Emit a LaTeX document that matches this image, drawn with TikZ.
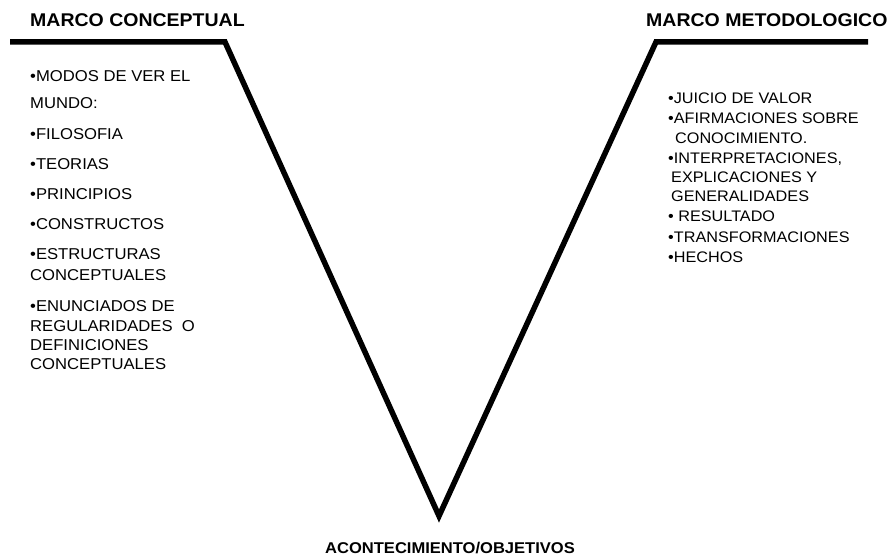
\documentclass[tikz,border=0pt]{standalone}
\usepackage{fontspec}
\setmainfont{Liberation Sans}
\newfontfamily\wide[FakeStretch=1.06]{Liberation Sans}
\begin{document}
\begin{tikzpicture}[x=1pt,y=-1pt,
  txt/.style={inner sep=0pt,anchor=base west,font=\wide\fontsize{15.7}{18}\selectfont},
  rtxt/.style={inner sep=0pt,anchor=base west,font=\wide\fontsize{15.3}{18}\selectfont},
  ttl/.style={inner sep=0pt,anchor=base west,font=\wide\bfseries\fontsize{18.4}{21}\selectfont},
  btl/.style={inner sep=0pt,anchor=base,font=\wide\bfseries\fontsize{15.6}{18}\selectfont},
  vline/.style={line width=5.5pt,line join=miter}]
\useasboundingbox (0,0) rectangle (889,556);
% V line
\coordinate (p1) at (10,42);
\coordinate (p2) at (225,42);
\coordinate (p3) at (439,516);
\coordinate (p4) at (656,42);
\coordinate (p5) at (868,42);
\draw[vline] (p1) -- (p2) -- (p3) -- (p4) -- (p5);
% titles
\node[ttl] (tl) at (30,27) {MARCO CONCEPTUAL};
\node[ttl] (tr) at (646,27) {MARCO METODOLOGICO};
\node[btl] (tb) at (450,553) {ACONTECIMIENTO/OBJETIVOS};
% left list
\node[txt] (l1) at (30,81.7) {•MODOS DE VER EL};
\node[txt] (l2) at (30,109) {MUNDO:};
\node[txt] (l3) at (30,139.3) {•FILOSOFIA};
\node[txt] (l4) at (30,169.3) {•TEORIAS};
\node[txt] (l5) at (30,200) {•PRINCIPIOS};
\node[txt] (l6) at (30,229.3) {•CONSTRUCTOS};
\node[txt] (l7) at (30,259.3) {•ESTRUCTURAS};
\node[txt] (l8) at (30,280) {CONCEPTUALES};
\node[txt] (l9) at (30,311.7) {•ENUNCIADOS DE};
\node[txt] (l10) at (30,331.7) {REGULARIDADES\ \ O};
\node[txt] (l11) at (30,350.7) {DEFINICIONES};
\node[txt] (l12) at (30,369.3) {CONCEPTUALES};
% right list
\node[rtxt] (r1) at (668,104) {•JUICIO DE VALOR};
\node[rtxt] (r2) at (668,124) {•AFIRMACIONES SOBRE};
\node[rtxt] (r3) at (675,143.7) {CONOCIMIENTO.};
\node[rtxt] (r4) at (668,163.3) {•INTERPRETACIONES,};
\node[rtxt] (r5) at (671,182.7) {EXPLICACIONES Y};
\node[rtxt] (r6) at (671,202) {GENERALIDADES};
\node[rtxt] (r7) at (668,222) {• RESULTADO};
\node[rtxt] (r8) at (668,242.7) {•TRANSFORMACIONES};
\node[rtxt] (r9) at (668,262.7) {•HECHOS};
\end{tikzpicture}
\end{document}
